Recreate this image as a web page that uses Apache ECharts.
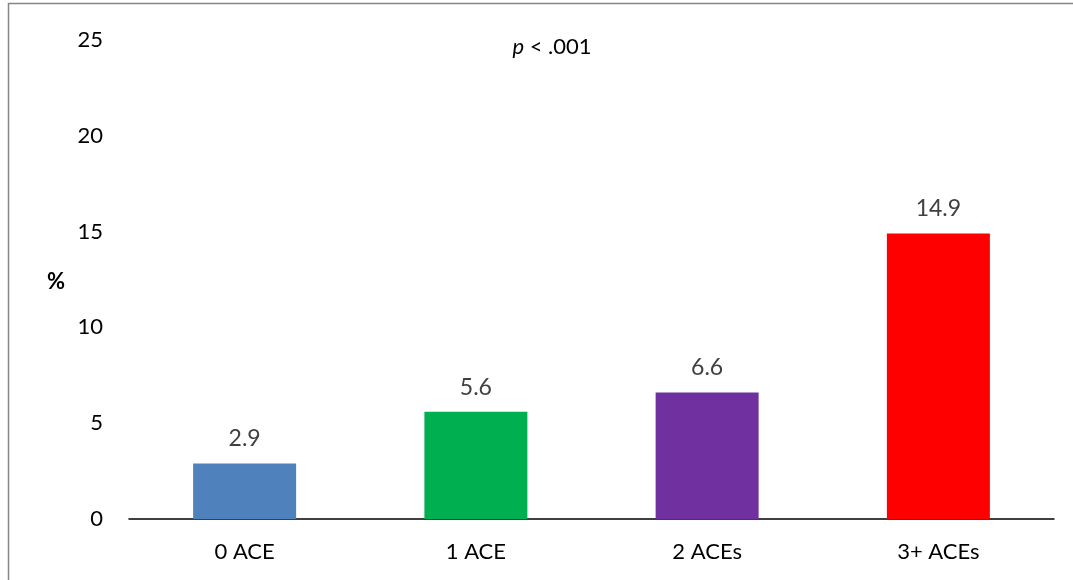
<!DOCTYPE html>
<html>
<head>
<meta charset="utf-8">
<script src="https://cdn.jsdelivr.net/npm/echarts@6/dist/echarts.min.js"></script>
<style>
html,body{margin:0;padding:0;background:#fff;}
#chart{width:1073px;height:580px;}
</style>
</head>
<body>
<div id="chart"></div>
<script>
var categories = ['0 ACE', '1 ACE', '2 ACEs', '3+ ACEs'];
var values = [2.9, 5.6, 6.6, 14.9];
var barColors = ['#4F81BD', '#00B050', '#7030A0', '#FF0000'];
var yTicks = [0, 5, 10, 15, 20, 25];

var FONT = 'Lato, "Open Sans", sans-serif';
var chart = echarts.init(document.getElementById('chart'), null, {renderer: 'canvas'});
chart.setOption({
  animation: false,
  grid: {left: 129, right: 19, top: 40, bottom: 61, containLabel: false},
  xAxis: {
    type: 'category',
    data: categories,
    axisLine: {show: true, lineStyle: {color: '#000', width: 1.5}},
    axisTick: {show: false},
    axisLabel: {color: '#000', fontSize: 22, fontFamily: FONT, margin: 22}
  },
  yAxis: {
    type: 'value',
    min: yTicks[0],
    max: yTicks[yTicks.length - 1],
    interval: 5,
    axisLine: {show: false},
    axisTick: {show: false},
    splitLine: {show: false},
    axisLabel: {color: '#000', fontSize: 22, fontFamily: FONT, margin: 26}
  },
  series: [{
    type: 'bar',
    barWidth: 103,
    data: values.map(function (v, i) {
      return {value: v, itemStyle: {color: barColors[i]}};
    }),
    label: {
      show: true,
      position: 'top',
      distance: 13,
      color: '#404040',
      fontSize: 23,
      fontFamily: FONT
    }
  }],
  graphic: [
    {
      type: 'polyline',
      shape: {points: [[8.5, 600], [8.5, 3.5], [1080, 3.5]]},
      style: {stroke: '#868686', lineWidth: 1.5, fill: null}
    },
    {
      type: 'text',
      x: 56,
      y: 282,
      style: {text: '%', font: 'bold 22px ' + FONT, fill: '#000', textAlign: 'center', textVerticalAlign: 'middle'}
    },
    {
      type: 'text',
      x: 552,
      y: 47,
      style: {
        text: '{i|p} < .001',
        textAlign: 'center',
        textVerticalAlign: 'middle',
        fontSize: 22,
        fontFamily: FONT,
        fill: '#000',
        rich: {i: {fontStyle: 'italic', fontSize: 22, fontFamily: FONT, fill: '#000'}}
      }
    }
  ]
});
</script>
</body>
</html>
